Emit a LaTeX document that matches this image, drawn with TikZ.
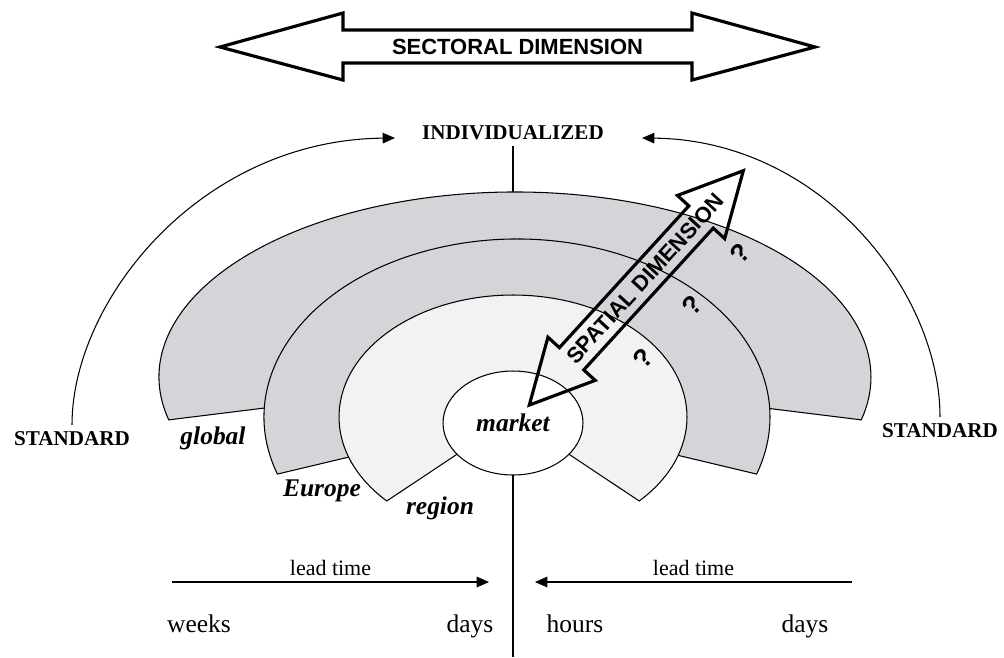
\documentclass[tikz,border=0pt]{standalone}
\usepackage{fontspec}
\setmainfont{Liberation Serif}
\setsansfont{Liberation Sans}
\usetikzlibrary{arrows.meta,shapes.geometric}
\definecolor{bandgray}{RGB}{212,213,216}
\definecolor{regiongray}{RGB}{242,242,242}
\tikzset{
  band/.style={draw=black,line width=0.6pt,fill=bandgray},
  innerband/.style={draw=black,line width=0.6pt,fill=regiongray},
  lbl/.style={font=\fontsize{14.5}{16}\selectfont\bfseries\itshape},
  caps/.style={font=\fontsize{12}{14}\selectfont\bfseries,anchor=base},
  timelbl/.style={font=\fontsize{14.5}{16}\selectfont,anchor=base},
  leadlbl/.style={font=\fontsize{12.5}{14}\selectfont},
  dimtext/.style={font=\fontsize{12.5}{14}\selectfont\sffamily\bfseries},
  qmark/.style={font=\fontsize{15}{17}\selectfont\sffamily\bfseries,rotate=47.6,inner sep=1pt},
  bigarrow/.style={draw=black,line width=1.8pt},
  tip/.style={-{Triangle[length=7pt,width=6pt]},line width=0.6pt}
}
\begin{document}
\begin{tikzpicture}[x=0.02cm,y=-0.02cm]
  \useasboundingbox (0,0) rectangle (1004,657);
  \path
    (513,139) node[caps] (indiv){INDIVIDUALIZED}
    (72,445) node[caps] (stdL){STANDARD}
    (940,437) node[caps] (stdR){STANDARD}
    (513,657) coordinate (axisend)
    (395,138) coordinate (indL)
    (642,138) coordinate (indR);
  \draw[line width=0.6pt] (indiv.south) -- (axisend);
  \path[band] (515,377) -- ++(166.6:356 and 185)
    arc[start angle=166.6,end angle=373.4,x radius=356,y radius=185] -- cycle;
  \path[band] (517,417) -- ++(161.3:253 and 178)
    arc[start angle=161.3,end angle=378.7,x radius=253,y radius=178] -- cycle;
  \path[innerband] (513,417) -- ++(136.5:174 and 122)
    arc[start angle=136.5,end angle=403.5,x radius=174,y radius=122] -- cycle;
  \node[ellipse,draw,fill=white,line width=0.6pt,minimum width=2.8cm,
    minimum height=2.08cm,inner sep=0pt,lbl] (market) at (513,423) {market};
  \path
    (213,444) node[lbl,anchor=base] (global){global}
    (322,496) node[lbl,anchor=base] (europe){Europe}
    (440,514) node[lbl,anchor=base] (region){region};
  \draw[bigarrow] (220,47) -- (343,13) -- (343,30) -- (692,30) -- (692,13)
    -- (815,47) -- (692,80) -- (692,63) -- (343,63) -- (343,80) -- cycle;
  \node[dimtext] (sectoral) at (517.5,47) {SECTORAL DIMENSION};
  \begin{scope}[shift={(636.3,287.9)},rotate=47.6]
    \draw[bigarrow] (158.7,0) -- (96,-32) -- (96,-16.5) -- (-96,-16.5) -- (-96,-32)
      -- (-158.7,0) -- (-96,32) -- (-96,16.5) -- (96,16.5) -- (96,32) -- cycle;
    \node[dimtext,rotate=47.6,inner sep=1pt] (spatial) at (13,0) {SPATIAL DIMENSION};
  \end{scope}
  \path
    (740,253) node[qmark] (q1){?}
    (692,305) node[qmark] (q2){?}
    (643,358) node[qmark] (q3){?};
  \draw[tip] (stdL.north) .. controls +(0,-124) and +(-195,2) .. (indL);
  \draw[tip] (stdR.north) .. controls +(0,-124) and +(180,2) .. (indR);
  \path
    (172,582) coordinate (ltL1)
    (489,582) coordinate (ltL2)
    (852,582) coordinate (ltR1)
    (535,582) coordinate (ltR2);
  \begin{scope}[tip]
    \draw (ltL1) to node[leadlbl,above] (leadL){lead time} (ltL2);
    \draw (ltR1) to node[leadlbl,above] (leadR){lead time} (ltR2);
  \end{scope}
  \path
    (199,632) node[timelbl] (weeks){weeks}
    (470,632) node[timelbl] (daysL){days}
    (575,632) node[timelbl] (hours){hours}
    (805,632) node[timelbl] (daysR){days};
\end{tikzpicture}
\end{document}
